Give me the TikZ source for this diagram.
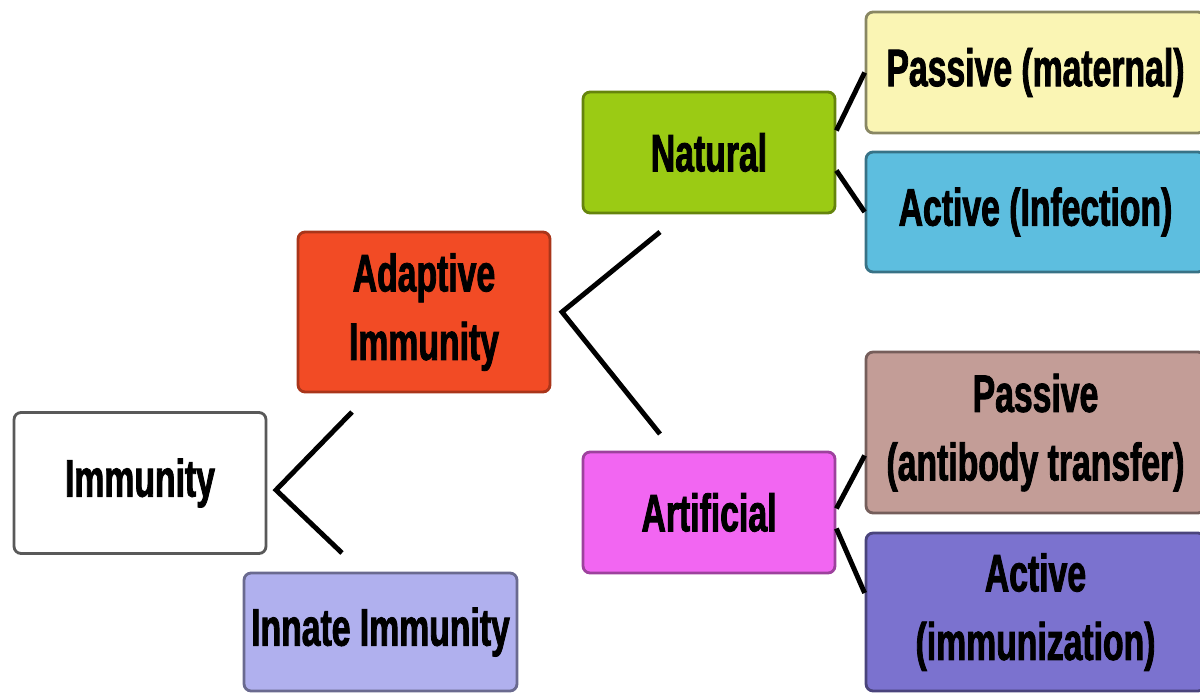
\documentclass[tikz,border=0pt]{standalone}
\usepackage{fontspec}
\newfontfamily\boxfont{Liberation Sans}[FakeStretch=0.64,BoldFeatures={FakeBold=1.6}]
\definecolor{adaptred}{HTML}{F24B25}
\definecolor{natgreen}{HTML}{9BCB14}
\definecolor{artpink}{HTML}{F266F2}
\definecolor{matyellow}{HTML}{FAF5B4}
\definecolor{infblue}{HTML}{5DBEDF}
\definecolor{abbrown}{HTML}{C39D97}
\definecolor{immpurple}{HTML}{7B72CF}
\definecolor{innlilac}{HTML}{B0B0EE}
\begin{document}
\begin{tikzpicture}[x=0.02cm,y=-0.02cm,
		box/.style={draw,rounded corners=4pt,line width=1.6pt,align=center,inner sep=0pt,
			font=\boxfont\bfseries\fontsize{30}{39}\selectfont},
		link/.style={line width=2.8pt}]
	\useasboundingbox (0,0) rectangle (1200,693);
	\node[box,fill=white,draw=black!65,minimum width=5.04cm,minimum height=2.82cm](imm) at (140,483){Immunity};
	\node[box,fill=innlilac,draw=innlilac!60!black,minimum width=5.46cm,minimum height=2.36cm](innate) at (380.5,632){Innate Immunity};
	\node[box,fill=adaptred,draw=adaptred!70!black,minimum width=5.04cm,minimum height=3.2cm](adapt) at (424,312){Adaptive\\Immunity};
	\node[box,fill=natgreen,draw=natgreen!65!black,minimum width=5.04cm,minimum height=2.42cm](natural) at (709,152.5){Natural};
	\node[box,fill=artpink,draw=artpink!65!black,minimum width=5.04cm,minimum height=2.42cm](artif) at (709,512.5){Artificial};
	\node[box,fill=matyellow,draw=matyellow!55!black,minimum width=6.78cm,minimum height=2.42cm](pasmat) at (1035.5,72.5){Passive (maternal)};
	\node[box,fill=infblue,draw=infblue!60!black,minimum width=6.78cm,minimum height=2.4cm](actinf) at (1035.5,212){Active (Infection)};
	\node[box,fill=abbrown,draw=abbrown!60!black,minimum width=6.78cm,minimum height=3.22cm](pasab) at (1035.5,432.5){Passive\\(antibody transfer)};
	\node[box,fill=immpurple,draw=immpurple!60!black,minimum width=6.78cm,minimum height=3.16cm](actimm) at (1035.5,612){Active\\(immunization)};
	\coordinate (imm-up) at (352,412);
	\coordinate (imm-tip) at (276,490);
	\coordinate (imm-down) at (342,553);
	\coordinate (adapt-up) at (660,232);
	\coordinate (adapt-tip) at (562,312);
	\coordinate (adapt-down) at (660,434);
	\draw[link] (imm-up) -- (imm-tip) -- (imm-down);
	\draw[link] (adapt-up) -- (adapt-tip) -- (adapt-down);
	\draw[link] ([yshift=0.44cm]natural.east) -- (pasmat.west);
	\draw[link] ([yshift=-0.36cm]natural.east) -- (actinf.west);
	\draw[link] ([yshift=0.08cm]artif.east) -- ([yshift=-0.46cm]pasab.west);
	\draw[link] ([yshift=-0.32cm]artif.east) -- ([yshift=0.38cm]actimm.west);
\end{tikzpicture}
\end{document}
